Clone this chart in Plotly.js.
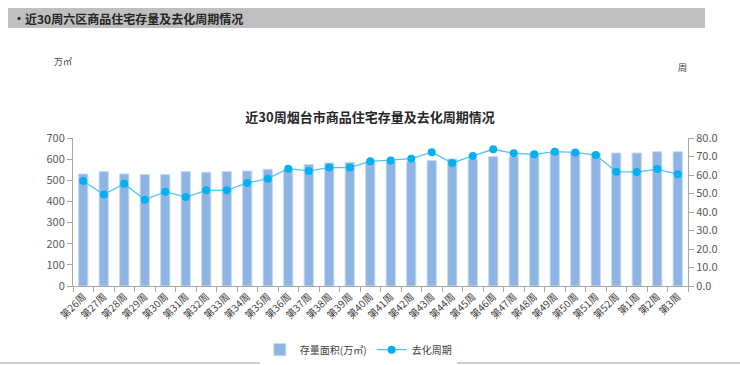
<!DOCTYPE html>
<html>
<head>
<meta charset="utf-8">
<script src="https://cdn.plot.ly/plotly-3.0.1.min.js"></script>
<style>html,body{margin:0;padding:0;background:#fff;}#chart{width:740px;height:365px;}</style>
</head>
<body>
<div id="chart"></div>
<script>
const weeks = ["第26周","第27周","第28周","第29周","第30周","第31周","第32周","第33周","第34周","第35周","第36周","第37周","第38周","第39周","第40周","第41周","第42周","第43周","第44周","第45周","第46周","第47周","第48周","第49周","第50周","第51周","第52周","第1周","第2周","第3周"];
const stock = [530,541,530,527,527,541,538,541,544,552,552,575,582,585,589,588,588,593,601,601,612,612,622,632,632,628,629,629,635,635];
const cycle = [56.8,49.4,55.3,46.6,51.0,48.1,51.7,51.7,55.7,58.0,63.4,62.2,64.0,64.0,67.4,67.9,68.8,72.3,66.5,70.3,73.9,71.7,71.2,72.6,72.2,70.8,61.8,61.6,63.2,60.4];
const leftTicks = [0,100,200,300,400,500,600,700];
const rightTicks = [0,10,20,30,40,50,60,70,80];

const font = "'Noto Sans CJK SC', 'Noto Sans', sans-serif";
const traces = [
  {type:'bar', x:weeks, y:stock, name:'存量面积(万㎡)', width:0.45,
   marker:{color:'#8eb4e3', line:{color:'#c6d9f1', width:1}}, hoverinfo:'none'},
  {type:'scatter', mode:'lines+markers', x:weeks, y:cycle, name:'去化周期', yaxis:'y2',
   line:{color:'#4fc3f7', width:1.3}, marker:{color:'#00b0f0', size:8}, hoverinfo:'none'}
];
const layout = {
  width:740, height:365,
  margin:{l:73, r:52, t:138, b:79, autoexpand:false},
  paper_bgcolor:'#fff', plot_bgcolor:'rgba(0,0,0,0)',
  font:{family:font, color:'#595959', size:11},
  showlegend:true,
  legend:{orientation:'h', x:0.464, xanchor:'center', y:-0.43, yanchor:'middle', font:{size:10, color:'#404040'}, traceorder:'normal'},
  title:{text:'<b>近30周烟台市商品住宅存量及去化周期情况</b>', x:0.5, xanchor:'center', y:1-117/365, yanchor:'middle', yref:'container', xref:'container', automargin:false, font:{size:13, color:'#262626', family:font}},
  xaxis:{type:'category', range:[-0.5, weeks.length-0.5], automargin:false, tickangle:-45, showline:true, linecolor:'#a6a6a6', linewidth:1, ticks:'outside', tickson:'boundaries', ticklen:5, tickcolor:'#a6a6a6', tickfont:{size:10, color:'#404040'}, showgrid:false, zeroline:false},
  yaxis:{range:[0,700], automargin:false, tickvals:leftTicks, ticktext:leftTicks.map(String), showline:true, linecolor:'#a6a6a6', ticks:'outside', ticklen:5, tickcolor:'#a6a6a6', showgrid:false, zeroline:false, tickfont:{size:11, color:'#595959'}},
  yaxis2:{range:[0,80], automargin:false, overlaying:'y', side:'right', tickvals:rightTicks, ticktext:rightTicks.map(v=>v.toFixed(1)), showline:true, linecolor:'#a6a6a6', ticks:'outside', ticklen:5, tickcolor:'#a6a6a6', showgrid:false, zeroline:false, tickfont:{size:11, color:'#595959'}},
  shapes:[
    {type:'rect', xref:'paper', yref:'paper', x0:(8-73)/615, x1:(705-73)/615, y0:(286-28)/148, y1:(286-8)/148, fillcolor:'#bfbfbf', line:{width:0}, layer:'below'},
    {type:'line', xref:'paper', yref:'paper', x0:-73/615, x1:(740-73)/615, y0:(286-363)/148, y1:(286-363)/148, line:{color:'#bfbfbf', width:1.5}}
  ],
  annotations:[
    {text:'<b>•近30周六区商品住宅存量及去化周期情况</b>', xref:'paper', yref:'paper', x:(11-73)/615, y:(286-18)/148, xanchor:'left', yanchor:'middle', showarrow:false, font:{size:12, color:'#262626', family:font}},
    {text:'万㎡', xref:'paper', yref:'paper', x:(52-73)/615, y:(286-62)/148, xanchor:'left', yanchor:'middle', showarrow:false, font:{size:9, color:'#404040', family:font}},
    {text:'周', xref:'paper', yref:'paper', x:(676-73)/615, y:(286-68)/148, xanchor:'left', yanchor:'middle', showarrow:false, font:{size:9, color:'#404040', family:font}}
  ]
};
Plotly.newPlot('chart', traces, layout, {displayModeBar:false, staticPlot:true});
</script>
</body>
</html>
